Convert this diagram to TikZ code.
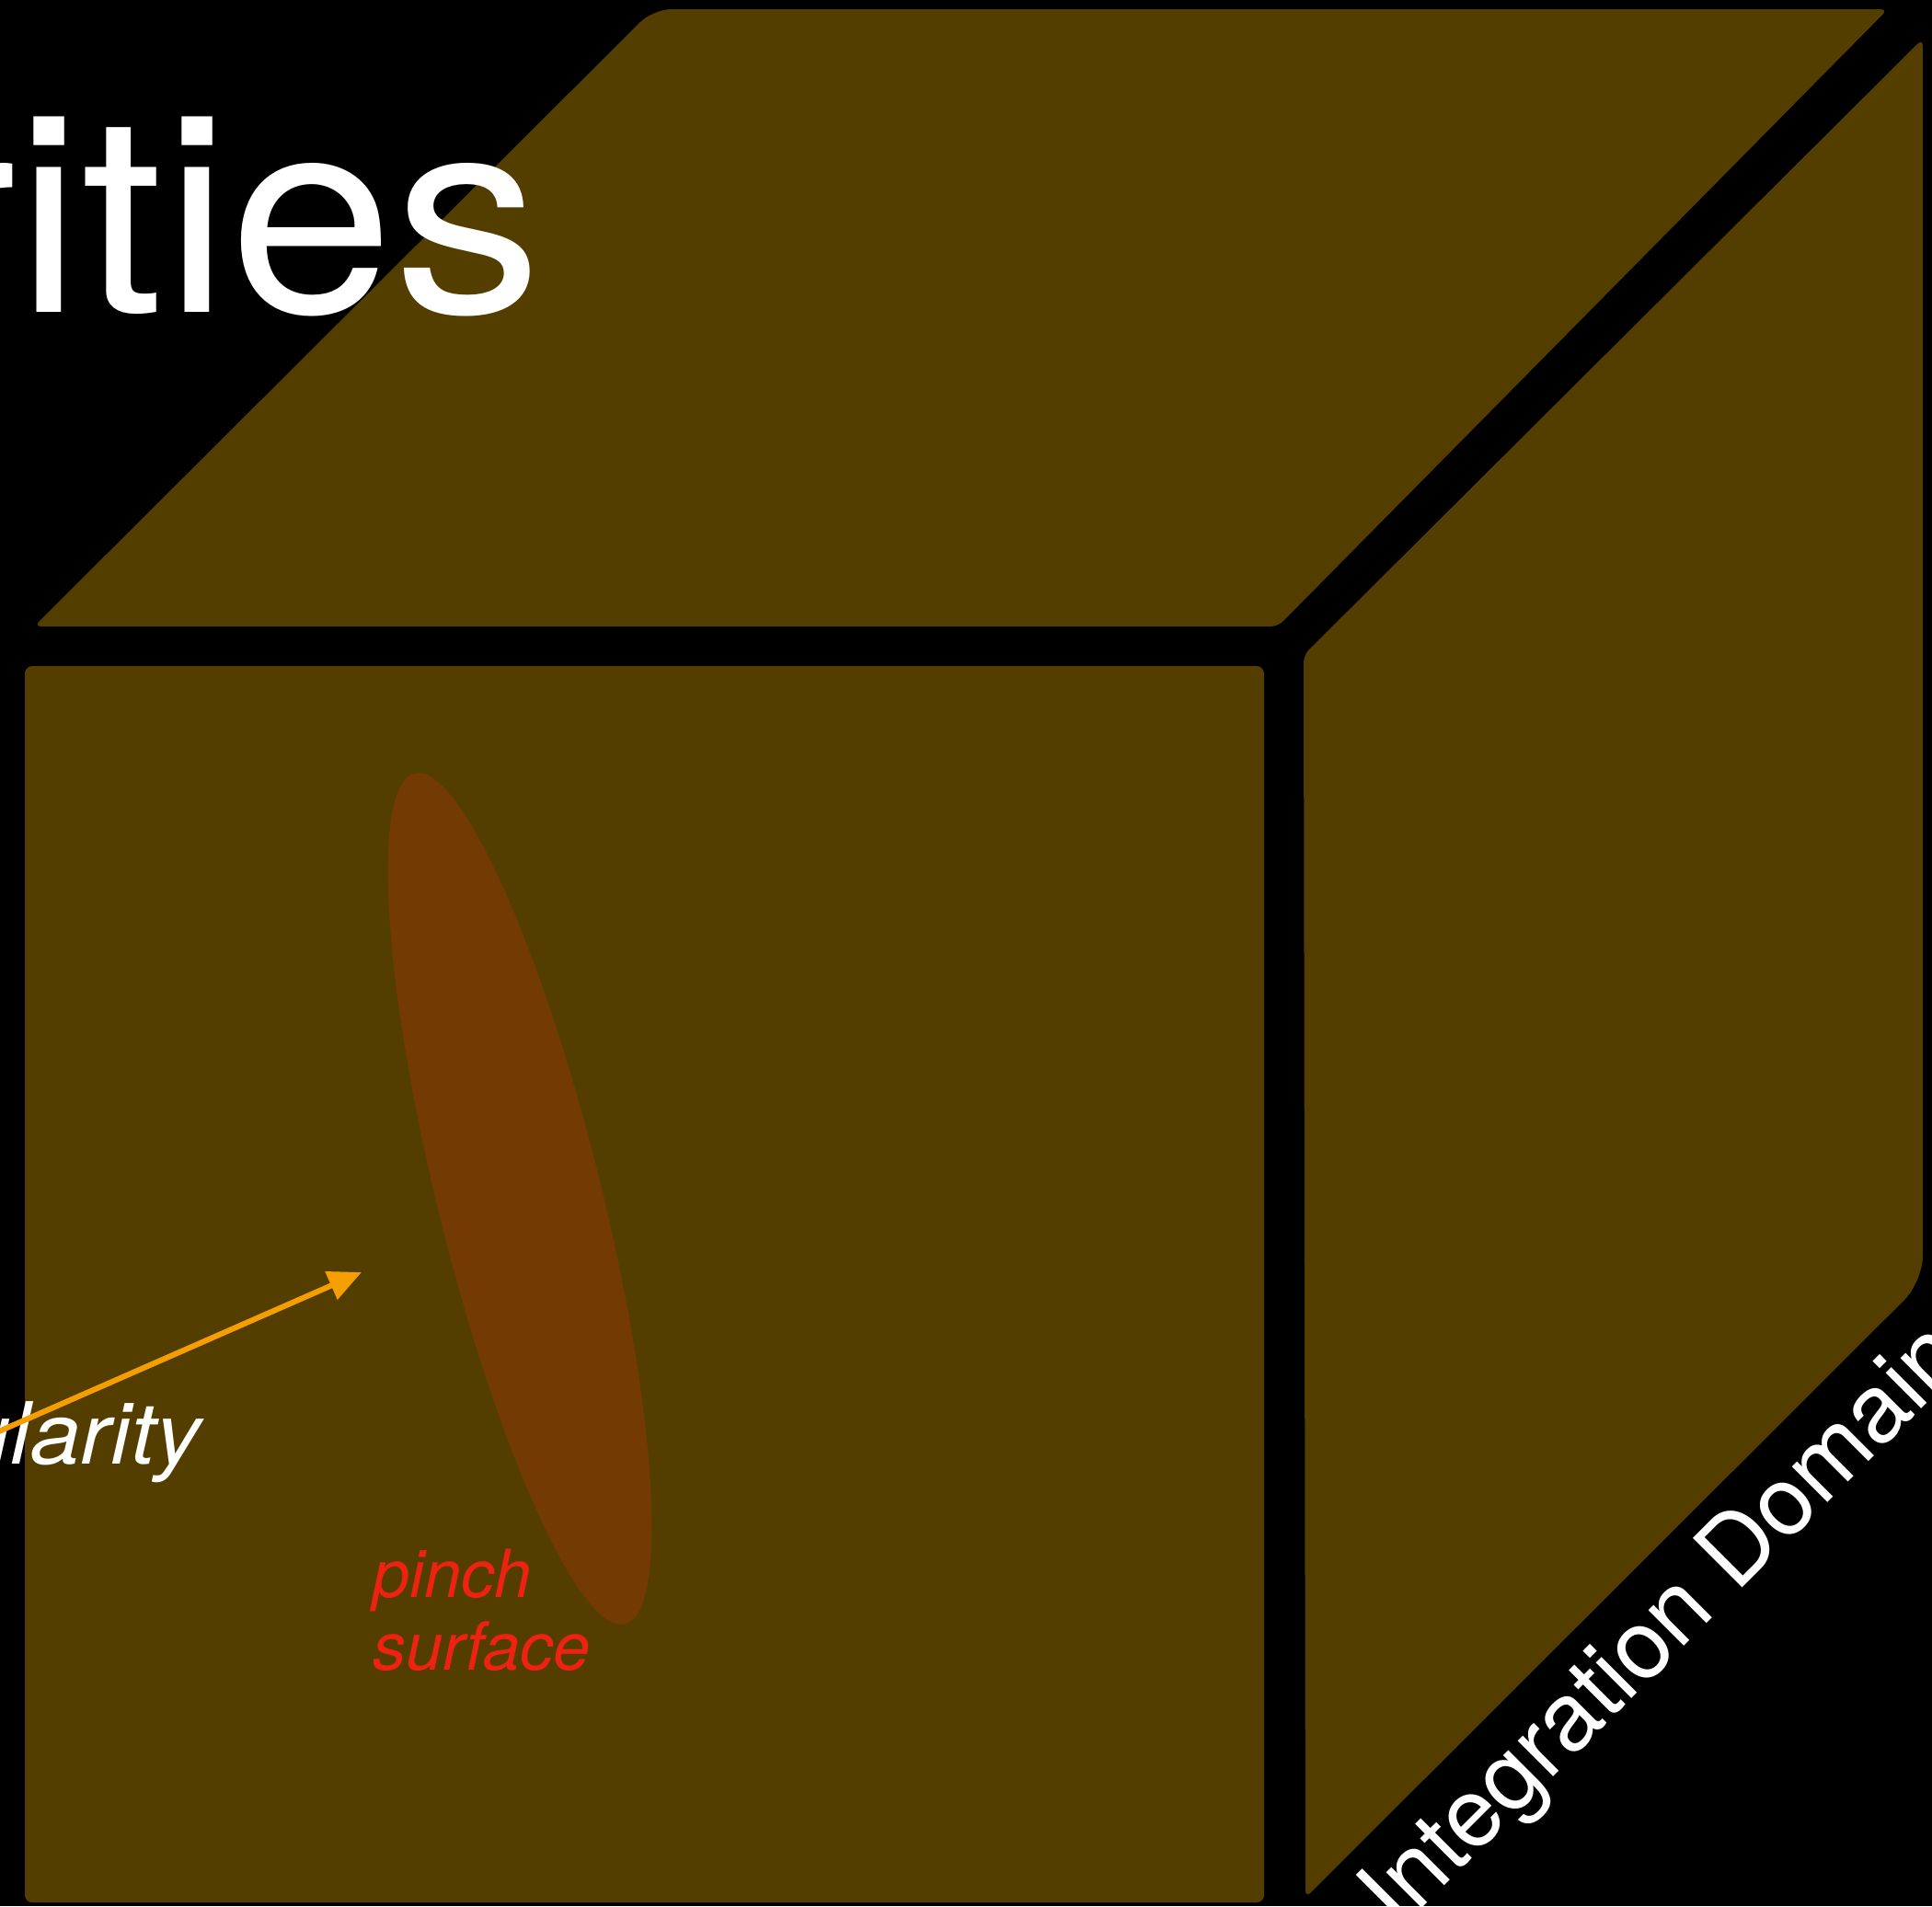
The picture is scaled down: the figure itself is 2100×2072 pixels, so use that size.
\documentclass[tikz,border=0pt]{standalone}
\usepackage{fontspec}
\setmainfont{TeX Gyre Heros}
\usepackage{tikz}
\usetikzlibrary{
  arrows.meta,
  shapes.geometric,
  positioning
}
\definecolor{sgBack}{HTML}{000000}
\definecolor{sgFace}{HTML}{533E00}
\definecolor{sgPinch}{HTML}{733B03}
\definecolor{sgArrow}{HTML}{F59E00}
\definecolor{sgRed}{HTML}{EE2211}
\tikzset{
  cubeface/.style={fill=sgFace, rounded corners=2.3pt},
  pinchsurf/.style={
    draw=none, fill=sgPinch, ellipse, inner sep=0pt,
    minimum width=1.78cm, minimum height=9.52cm
  },
  bigtitle/.style={text=white, inner sep=0pt, font=\fontsize{85.5}{86}\selectfont},
  singtag/.style={text=white, inner sep=0pt, font=\itshape\fontsize{26.5}{30}\selectfont},
  pinchtag/.style={text=sgRed, inner sep=0pt, align=left, font=\itshape\fontsize{20.5}{22.2}\selectfont},
  domaintag/.style={text=white, inner sep=0pt, font=\fontsize{29.6}{32}\selectfont},
  singarrow/.style={-{Triangle[length=0.36cm, width=0.32cm]}, line width=0.06cm, sgArrow}
}

\begin{document}
\begin{tikzpicture}[x=0.01cm, y=-0.01cm]
  \fill[sgBack] (0,0) rectangle (2100,2072);
  \useasboundingbox (0,0) rectangle (2100,2072);
  \clip (0,0) rectangle (2100,2072);

  % the three faces of the cube
  \fill[cubeface] (37,681) [rounded corners=5.7pt] -- (710,10) [rounded corners=2.3pt] -- (2052,10) -- (1389,681) -- cycle;
  \fill[cubeface] (2090,42) [rounded corners=8pt] -- (2090,1393) [rounded corners=2.3pt] -- (1419,2063) -- (1417,712) -- cycle;
  \fill[cubeface] (27,724) rectangle (1374,2068);

  \node[pinchsurf, rotate=13.9] (pinch) at (565,1303) {};

  \node[bigtitle, anchor=base east] (title) at (590,339) {\scalebox{1.07}[1]{rities}};
  \node[singtag, anchor=base east] (sing) at (219,1591) {\scalebox{1.05}[1]{ularity}};
  \node[pinchtag, anchor=base west] (pinchlbl) at (405,1815) {pinch\\surface};
  \node[domaintag, rotate=45, anchor=base west] (domain) at (1520,2100) {Integration Domain};

  \coordinate (singTail) at (-40,1573);
  \coordinate (singTip) at (393,1383);
  \draw[singarrow] (singTail) -- (singTip);
\end{tikzpicture}
\end{document}
